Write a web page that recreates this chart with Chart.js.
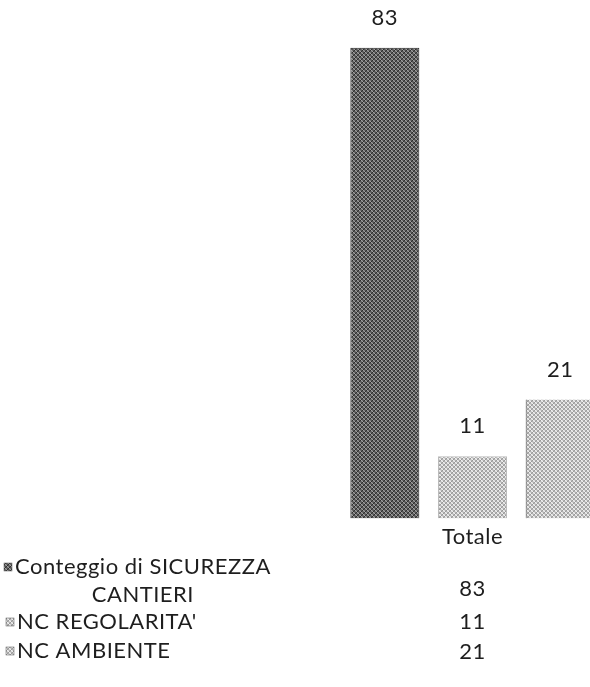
<!DOCTYPE html>
<html>
<head>
<meta charset="utf-8">
<script src="https://cdn.jsdelivr.net/npm/chart.js@4"></script>
<style>
  html, body { margin: 0; padding: 0; background: #fff; overflow: hidden; }
  #wrap { width: 605px; height: 687px; }
</style>
</head>
<body>
<div id="wrap"><canvas id="grafico"></canvas></div>
<script>
// ===== dati =====
const categorie = ["Totale"];
const serieNomi = ["Conteggio di SICUREZZA CANTIERI", "NC REGOLARITA'", "NC AMBIENTE"];
const serieRighe = [["Conteggio di SICUREZZA", "CANTIERI"], ["NC REGOLARITA'"], ["NC AMBIENTE"]];
const serieValori = [83, 11, 21];

const FONT = "Lato";
const FS = 22;
const TESTO = "#1e1e1e";

// ===== pattern grigio (effetto scansione) =====
function makePattern(cols) {
  const c = document.createElement("canvas");
  c.width = 4; c.height = 4;
  const g = c.getContext("2d");
  const ordine = [0, 2, 1, 3, 3, 1, 2, 0, 1, 3, 0, 2, 2, 0, 3, 1];
  for (let i = 0; i < 16; i++) {
    g.fillStyle = cols[ordine[i] % cols.length];
    g.fillRect(i % 4, Math.floor(i / 4), 1, 1);
  }
  return g.createPattern(c, "repeat");
}

const riempimenti = [
  makePattern(["#2e2e2e", "#707070", "#a0a0a0", "#525252"]),
  makePattern(["#9a9a9a", "#d8d8d8", "#f0f0f0", "#b0b0b0"]),
  makePattern(["#9c9c9c", "#d8d8d8", "#f0f0f0", "#b0b0b0"])
];
const bordi = ["#222", "#bbb", "#444"];

// spaziatura lettere come nella scansione
const spaziatura = {
  id: "spaziatura",
  beforeDraw(chart) {
    chart.ctx.letterSpacing = "0.5px";
  }
};

// ===== etichette sopra le barre =====
const etichette = {
  id: "etichette",
  afterDatasetsDraw(chart) {
    const ctx = chart.ctx;
    ctx.save();
    ctx.font = FS + "px " + FONT;
    ctx.fillStyle = TESTO;
    ctx.textAlign = "center";
    ctx.textBaseline = "middle";
    chart.data.datasets.forEach((ds, i) => {
      const bar = chart.getDatasetMeta(i).data[0];
      ctx.fillText(ds.data[0], bar.x, bar.y - 30);
    });
    ctx.restore();
  }
};

// ===== tabella dati =====
const tabella = {
  id: "tabella",
  afterDraw(chart) {
    const ctx = chart.ctx;
    const xVal = chart.scales.x.getPixelForValue(0);
    const righeY = [[567, 595], [622], [651]];
    const valY = [589, 622, 652];
    const swX = [4, 6, 6];
    ctx.save();
    ctx.font = FS + "px " + FONT;
    ctx.fillStyle = TESTO;
    ctx.textBaseline = "middle";
    serieRighe.forEach((righe, i) => {
      // quadratino legenda
      ctx.fillStyle = riempimenti[i];
      ctx.fillRect(swX[i], righeY[i][0] - 4, 8, 8);
      ctx.strokeStyle = "#555";
      ctx.lineWidth = 0.5;
      ctx.strokeRect(swX[i], righeY[i][0] - 4, 8, 8);
      ctx.fillStyle = TESTO;
      const x0 = swX[i] + 11;
      ctx.textAlign = "left";
      ctx.fillText(righe[0], x0, righeY[i][0]);
      if (righe[1]) {
        const w = ctx.measureText(righe[0]).width;
        ctx.textAlign = "center";
        ctx.fillText(righe[1], x0 + w / 2, righeY[i][1]);
      }
      ctx.textAlign = "center";
      ctx.fillText(chart.data.datasets[i].data[0], xVal, valY[i]);
    });
    ctx.restore();
  }
};

const grafico = new Chart(document.getElementById("grafico"), {
  type: "bar",
  data: {
    labels: categorie,
    datasets: serieNomi.map((nome, i) => ({
      label: nome,
      data: [serieValori[i]],
      backgroundColor: riempimenti[i],
      borderColor: bordi[i],
      borderWidth: i === 2 ? { left: 1, right: 0, top: 0, bottom: 0 } : { left: 1, right: 1, top: 1, bottom: 0 },
      barPercentage: 0.787,
      categoryPercentage: 1
    }))
  },
  options: {
    responsive: true,
    maintainAspectRatio: false,
    animation: false,
    layout: { padding: { left: 341, right: 1, top: 8, bottom: 132 } },
    plugins: { legend: { display: false }, tooltip: { enabled: false } },
    scales: {
      y: { display: false, min: 0, max: 90 },
      x: {
        grid: { display: false, drawTicks: false },
        border: { display: false },
        ticks: { color: TESTO, font: { family: FONT, size: FS }, padding: 5 }
      }
    }
  },
  plugins: [spaziatura, etichette, tabella]
});
</script>
</body>
</html>
